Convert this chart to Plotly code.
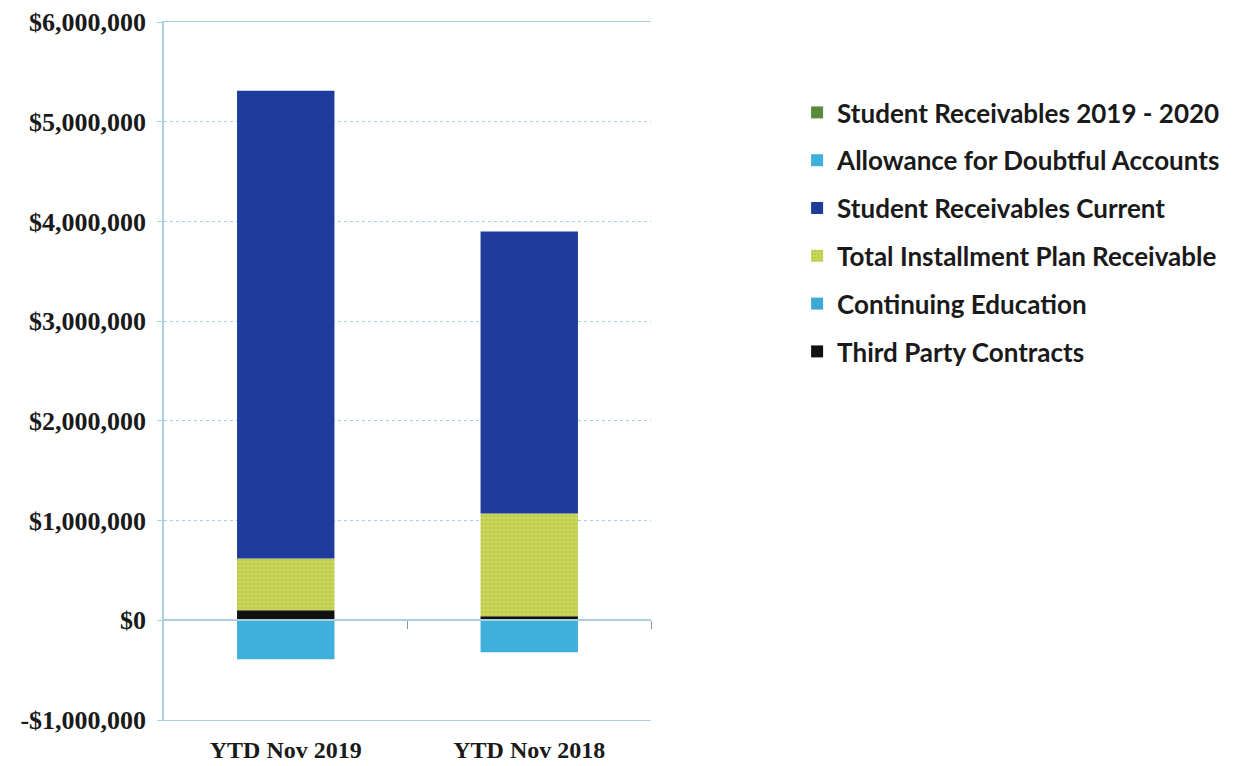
import plotly.graph_objects as go

categories = ["YTD Nov 2019", "YTD Nov 2018"]
third_party = [100000, 40000]
continuing_ed = [0, 0]
installment = [520000, 1030000]
current = [4690000, 2830000]
allowance = [-390000, -320000]
sr_2019_2020 = [0, 0]

tick_vals = [-1000000, 0, 1000000, 2000000, 3000000, 4000000, 5000000, 6000000]
tick_text = ["-$1,000,000", "$0", "$1,000,000", "$2,000,000", "$3,000,000",
             "$4,000,000", "$5,000,000", "$6,000,000"]

# stacking order (bottom to top); legend lists them in reverse
series = [
    ("Third Party Contracts", third_party, "#111111", None),
    ("Continuing Education", continuing_ed, "#3fa9d6", None),
    ("Total Installment Plan Receivable", installment, "#cdd654", "#93bd55"),
    ("Student Receivables Current", current, "#1d3c9c", None),
    ("Allowance for Doubtful Accounts", allowance, "#3fb0dc", None),
    ("Student Receivables 2019 - 2020", sr_2019_2020, "#5a8a3c", None),
]

fig = go.Figure()
n = len(series)
for i, (name, vals, color, pcol) in enumerate(series):
    marker = dict(color=color, line=dict(width=0))
    if pcol:
        marker["pattern"] = dict(shape=".", fgcolor=pcol, size=4, solidity=0.35)
    fig.add_trace(go.Bar(x=categories, y=vals, name=name, marker=marker,
                         width=0.4, legendgroup="g%d" % i, legendrank=n - i))

# invisible trace to activate the zero-line axis
fig.add_trace(go.Scatter(x=[0], y=[0], xaxis="x2", mode="markers",
                         marker=dict(opacity=0), showlegend=False, hoverinfo="skip"))

grid_col = "#a9cfe0"
fig.update_layout(
    width=1236, height=766,
    barmode="relative",
    plot_bgcolor="white", paper_bgcolor="white",
    margin=dict(l=156, r=593, t=14, b=54),
    showlegend=True,
    legend=dict(x=1.3, y=0.904, xanchor="left", yanchor="top",
                traceorder="grouped", tracegroupgap=11,
                font=dict(family="Lato", size=26, color="#1a1a1a", weight="bold"),
                itemwidth=30),
    xaxis=dict(type="category", showgrid=False, showline=True, mirror=True,
               linecolor=grid_col, linewidth=1, ticks="", automargin=False,
               tickfont=dict(family="Liberation Serif", size=24, color="#1a1a1a",
                             weight="bold"),
               zeroline=False, ticklabelstandoff=8),
    xaxis2=dict(type="linear", range=[-0.5, 1.5], overlaying="x", anchor="free",
                position=1/7, side="bottom", showgrid=False, showline=True,
                linecolor=grid_col, linewidth=1.5, ticks="outside",
                tickvals=[0.5, 1.5], ticklen=8, tickcolor="#7a9aaa",
                showticklabels=False, zeroline=False),
    yaxis=dict(range=[-1000000, 6000000], tickvals=tick_vals, ticktext=tick_text,
               showgrid=True, gridcolor=grid_col, griddash="dot", gridwidth=1.3,
               showline=True, linecolor=grid_col, linewidth=1.5,
               ticks="outside", ticklen=5, tickcolor=grid_col, automargin=False,
               zeroline=False, ticklabelstandoff=6,
               tickfont=dict(family="Liberation Serif", size=26, color="#1a1a1a",
                             weight="bold")),
    bargap=0.6,
)
fig.write_html("out.html")
